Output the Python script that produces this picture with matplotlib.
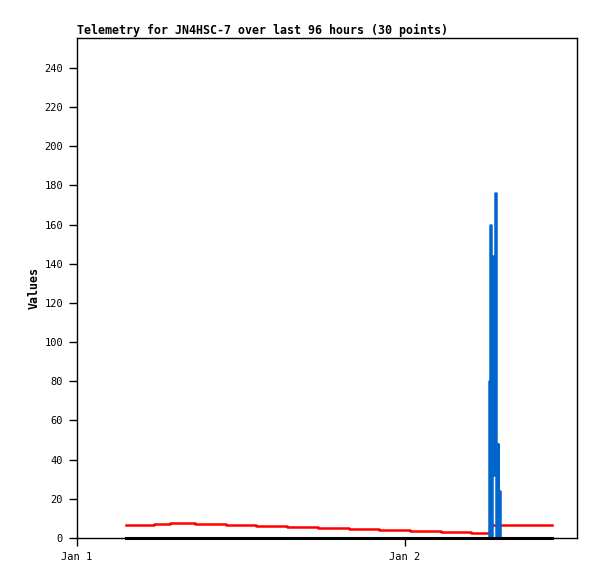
import matplotlib
matplotlib.use("Agg")
import matplotlib.pyplot as plt

# time in hours since Jan 1 00:00
hours = [3.59, 5.60, 6.84, 8.60, 10.87, 13.13, 15.40, 17.63, 19.90, 22.13,
         24.37, 26.60, 28.83, 30.15, 30.24, 30.31, 30.35, 30.42, 30.48, 30.55,
         30.64, 30.77, 30.83, 30.95, 34.73]
red_vals = [6.6, 7.1, 7.6, 7.1, 6.6, 6.1, 5.6, 5.1, 4.6, 4.1,
            3.6, 3.1, 2.6, 2.6, 2.6, 6.6, 6.6, 6.6, 6.6, 6.6,
            6.6, 6.6, 6.6, 6.6, 6.6]
blue_vals = [0, 0, 0, 0, 0, 0, 0, 0, 0, 0,
             0, 0, 0, 80, 160, 0, 144, 128, 32, 176,
             0, 48, 24, 0, 0]
black_vals = [0] * len(hours)

x_ticks = [0, 24]
x_tick_labels = ["Jan 1", "Jan 2"]
y_ticks = list(range(0, 241, 20))
title = "Telemetry for JN4HSC-7 over last 96 hours (30 points)"

fig = plt.figure(figsize=(5.97, 5.79), dpi=100)
ax = fig.add_axes([77/597, 41/579, 500/597, 500/579])

lw = 1.8
ax.plot(hours, red_vals, color="#FF0000", lw=lw, drawstyle="steps-post", zorder=2)
ax.plot(hours, blue_vals, color="#0066CC", lw=lw, drawstyle="steps-post", zorder=3)
ax.plot(hours, black_vals, color="#000000", lw=2.2, drawstyle="steps-post",
        zorder=4, clip_on=False)

ax.set_xlim(0, 500/328*24)
ax.set_ylim(0, 255.3)
ax.set_xticks(x_ticks)
ax.set_xticklabels(x_tick_labels)
ax.set_yticks(y_ticks)

mono = "DejaVu Sans Mono"
for lab in ax.get_xticklabels() + ax.get_yticklabels():
    lab.set_fontfamily(mono)
    lab.set_fontsize(7.5)
ax.tick_params(axis="both", direction="out", length=6, width=1, pad=4, color="black")

for s in ax.spines.values():
    s.set_linewidth(1)
    s.set_color("black")

ax.set_title(title, loc="left", fontfamily=mono, fontweight="bold", fontsize=8.4, pad=3)
ax.set_ylabel("Values", fontfamily=mono, fontweight="bold", fontsize=8.4, labelpad=3)

fig.savefig("out.png", dpi=100)
